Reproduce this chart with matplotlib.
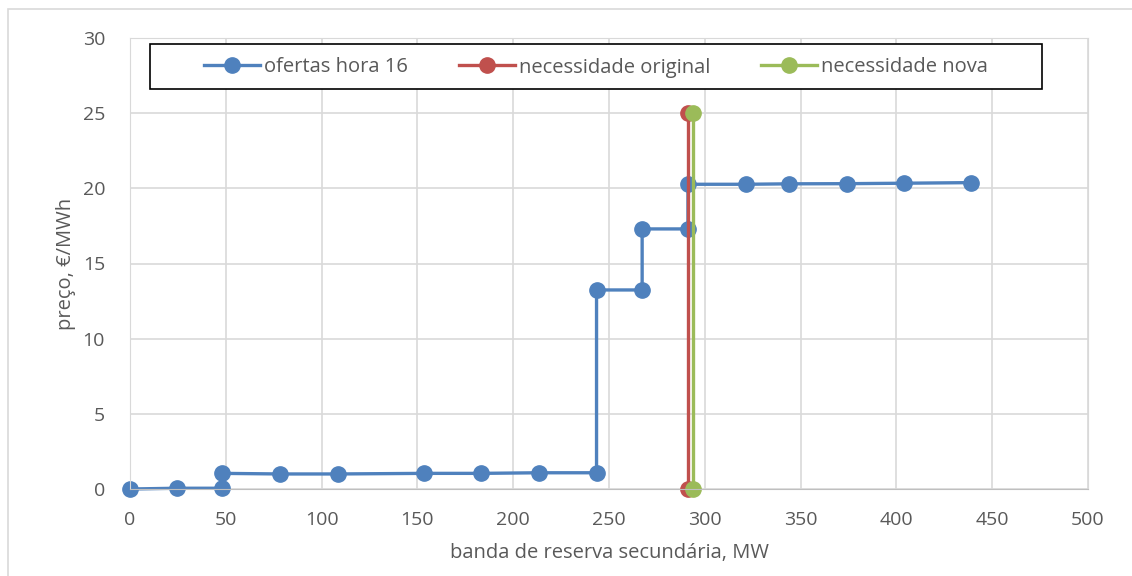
import matplotlib
matplotlib.use("Agg")
import matplotlib.pyplot as plt
from matplotlib.patches import Rectangle

# ofertas hora 16 (step curve, one point per corner)
ofertas_x = [0, 24.4, 48.2, 48.2, 78.4, 108.3, 153.3, 183.4, 213.3, 243.5,
             243.5, 267.3, 267.3, 291.2, 291.2, 321.7, 344.1, 374.1, 404.0, 438.9]
ofertas_y = [0, 0.05, 0.05, 1.04, 1.0, 1.0, 1.04, 1.04, 1.08, 1.08,
             13.24, 13.24, 17.3, 17.3, 20.27, 20.27, 20.3, 20.31, 20.34, 20.38]

orig_x = [291, 291]
orig_y = [0, 25]
nova_x = [294, 294]
nova_y = [0, 25]

BLUE = '#4f81bd'
RED = '#c0504d'
GREEN = '#9bbb59'
TXT = '#595959'

plt.rcParams['font.family'] = ['Open Sans', 'DejaVu Sans']

fig = plt.figure(figsize=(11.32, 5.76), dpi=100)
ax = fig.add_axes([130 / 1132, 87 / 576, 958 / 1132, 451 / 576])

# light chart-area frame
fig.patches.append(Rectangle((8 / 1132, -0.1), 1.2, 1.1 - 9 / 576, transform=fig.transFigure,
                             fill=False, edgecolor='#d9d9d9', linewidth=1.2))

kw = dict(lw=2.4, marker='o', markersize=11, clip_on=False)
ax.plot(ofertas_x, ofertas_y, color=BLUE, label='ofertas hora 16', **kw)
ax.plot(orig_x, orig_y, color=RED, label='necessidade original', **kw)
ax.plot(nova_x, nova_y, color=GREEN, label='necessidade nova', **kw)

ax.set_xlim(0, 500)
ax.set_ylim(0, 30)
ax.set_xticks(range(0, 501, 50))
ax.set_yticks(range(0, 31, 5))
ax.grid(True, color='#d9d9d9', lw=1.2)
ax.set_axisbelow(True)
for s in ['top', 'right', 'left']:
    ax.spines[s].set_color('#d9d9d9')
ax.spines['bottom'].set_color('#bfbfbf')
ax.tick_params(axis='both', length=0, labelsize=14, labelcolor=TXT)
ax.tick_params(axis='x', pad=16)
ax.tick_params(axis='y', pad=18)

ax.set_xlabel('banda de reserva secundária, MW', fontsize=14.5, color=TXT, labelpad=10)
ax.set_ylabel('preço, €/MWh', fontsize=14.5, color=TXT, labelpad=5)

# legend box (drawn separately so the entries sit centred inside it)
ax.add_patch(Rectangle((20 / 958, (489 - 89) / 451), 892 / 958, 45 / 451,
                       transform=ax.transAxes, fill=True, facecolor='white',
                       edgecolor='black', linewidth=1.2, clip_on=False, zorder=5))
leg = ax.legend(loc='center', bbox_to_anchor=(466 / 958, (489 - 67.5) / 451),
                ncol=3, fontsize=14.5, frameon=False, borderpad=0,
                handlelength=2.8, handletextpad=0.2, columnspacing=2.5)
leg.set_zorder(6)
for t in leg.get_texts():
    t.set_color(TXT)

fig.savefig('out.png', dpi=100)
